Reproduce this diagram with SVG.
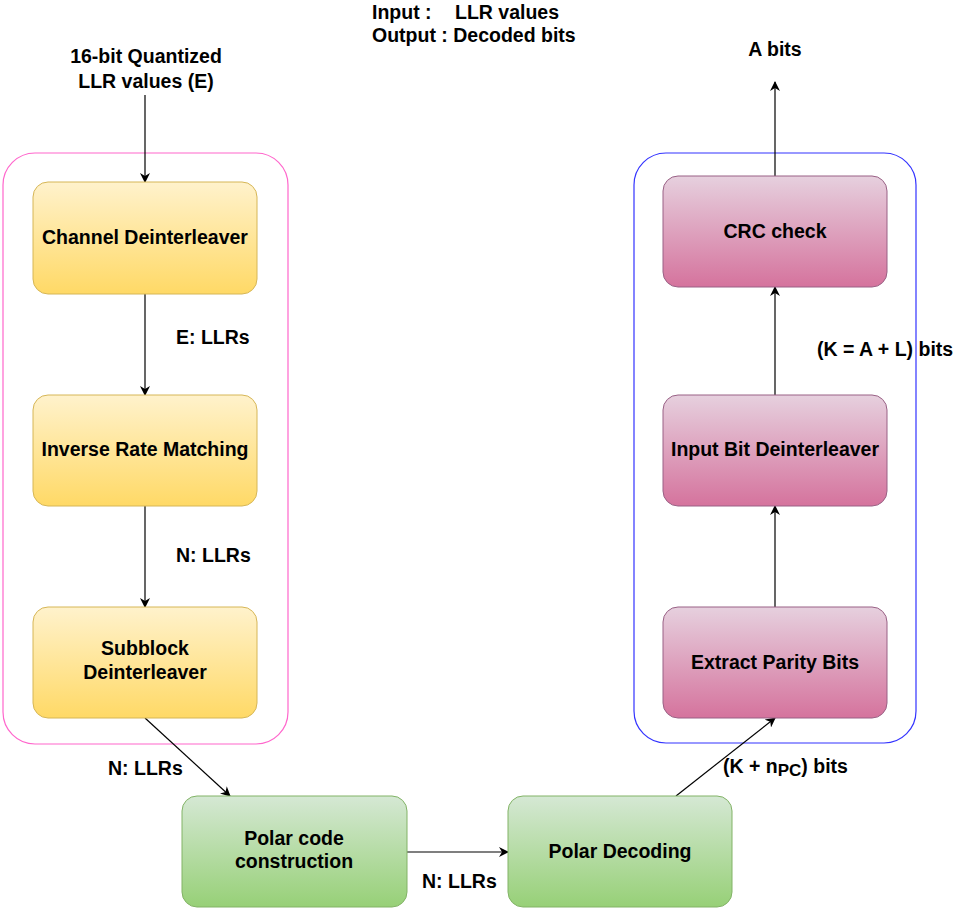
<svg xmlns="http://www.w3.org/2000/svg" width="960" height="914" viewBox="0 0 960 914">
<defs>
<linearGradient id="gy" x1="0" y1="0" x2="0" y2="1"><stop offset="0" stop-color="#fff2cc"/><stop offset="1" stop-color="#ffd966"/></linearGradient>
<linearGradient id="gp" x1="0" y1="0" x2="0" y2="1"><stop offset="0" stop-color="#e6d0de"/><stop offset="1" stop-color="#d5739d"/></linearGradient>
<linearGradient id="gg" x1="0" y1="0" x2="0" y2="1"><stop offset="0" stop-color="#d5e8d4"/><stop offset="1" stop-color="#97d077"/></linearGradient>
<marker id="ar" viewBox="0 0 10 10" refX="9" refY="5" markerWidth="10" markerHeight="10" markerUnits="userSpaceOnUse" orient="auto"><path d="M0,0 L10,5 L0,10 L3,5 Z" fill="#000"/></marker>
</defs>
<style>
text{font-family:"Liberation Sans",Arial,sans-serif;font-weight:bold;font-size:19.5px;fill:#000}
.c{text-anchor:middle}
.y{fill:url(#gy);stroke:#d6b656}
.p{fill:url(#gp);stroke:#996185}
.g{fill:url(#gg);stroke:#82b366}
.e{stroke:#000;stroke-width:1.2;fill:none;marker-end:url(#ar)}
</style>
<rect width="960" height="914" fill="#fff"/>
<g id="containers">
<rect x="3" y="153" width="285" height="591" rx="32" fill="none" stroke="#ff66cc" stroke-width="1.2"/>
<rect x="634" y="153" width="282" height="590" rx="32" fill="none" stroke="#3333ff" stroke-width="1.2"/>
</g>
<g id="connectors">
<line class="e" x1="145" y1="95" x2="145" y2="182"/>
<line class="e" x1="145" y1="294" x2="145" y2="395"/>
<line class="e" x1="145" y1="506" x2="145" y2="607"/>
<line class="e" x1="145" y1="718" x2="230" y2="796"/>
<line class="e" x1="407" y1="852" x2="508" y2="852"/>
<line class="e" x1="676" y1="796" x2="775" y2="718"/>
<line class="e" x1="775" y1="607" x2="775" y2="506"/>
<line class="e" x1="775" y1="395" x2="775" y2="287"/>
<line class="e" x1="775" y1="176" x2="775" y2="82"/>
</g>
<g id="n1"><rect class="y" x="33" y="182" width="224" height="112" rx="15"/><text class="c" x="145" y="244">Channel Deinterleaver</text></g>
<g id="n2"><rect class="y" x="33" y="395" width="224" height="111" rx="15"/><text class="c" x="145" y="456">Inverse Rate Matching</text></g>
<g id="n3"><rect class="y" x="33" y="607" width="224" height="111" rx="15"/><text class="c" x="145" y="655">Subblock</text><text class="c" x="145" y="679">Deinterleaver</text></g>
<g id="n4"><rect class="g" x="182" y="796" width="225" height="111" rx="15"/><text class="c" x="294" y="845">Polar code</text><text class="c" x="294" y="868">construction</text></g>
<g id="n5"><rect class="g" x="508" y="796" width="224" height="111" rx="15"/><text class="c" x="620" y="858">Polar Decoding</text></g>
<g id="n6"><rect class="p" x="663" y="607" width="224" height="111" rx="15"/><text class="c" x="775" y="669">Extract Parity Bits</text></g>
<g id="n7"><rect class="p" x="663" y="395" width="224" height="111" rx="15"/><text class="c" x="775" y="456">Input Bit Deinterleaver</text></g>
<g id="n8"><rect class="p" x="663" y="176" width="224" height="111" rx="15"/><text class="c" x="775" y="238">CRC check</text></g>
<g id="labels">
<text class="c" x="146" y="63">16-bit Quantized</text>
<text class="c" x="146" y="88">LLR values (E)</text>
<text x="176" y="344">E: LLRs</text>
<text x="176" y="562">N: LLRs</text>
<text x="108" y="775">N: LLRs</text>
<text x="422" y="888">N: LLRs</text>
<text x="723" y="773">(K + n<tspan font-size="17" dy="3">PC</tspan><tspan dy="-3">) bits</tspan></text>
<text x="817" y="356">(K = A + L) bits</text>
<text class="c" x="775" y="56">A bits</text>
<text x="372" y="19">Input :<tspan x="455">LLR values</tspan></text>
<text x="372" y="42">Output : Decoded bits</text>
</g>
</svg>
